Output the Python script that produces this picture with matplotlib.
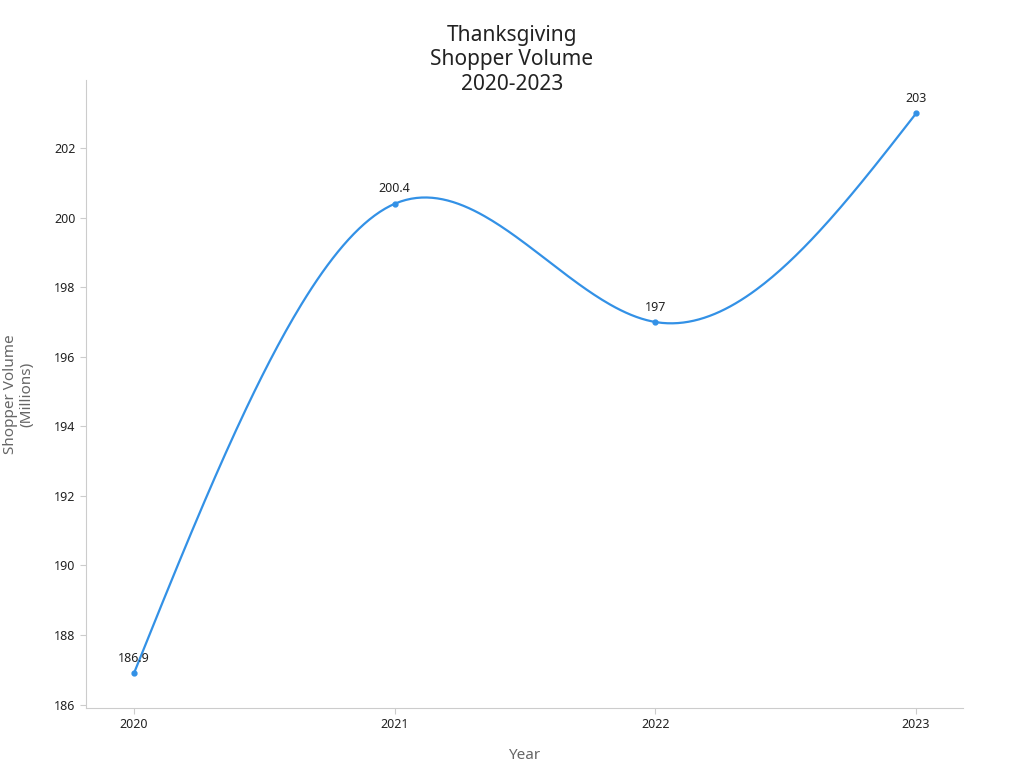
import numpy as np
import matplotlib
matplotlib.use("Agg")
import matplotlib.pyplot as plt

plt.rcParams['font.family'] = ['Noto Sans', 'DejaVu Sans']

years = [2020, 2021, 2022, 2023]
volume = [186.9, 200.4, 197, 203]
labels = ["186.9", "200.4", "197", "203"]

def natural_spline(x, y, n=300):
    x = np.asarray(x, float); y = np.asarray(y, float)
    k = len(x); h = np.diff(x)
    A = np.zeros((k, k)); b = np.zeros(k)
    A[0, 0] = A[-1, -1] = 1
    for i in range(1, k - 1):
        A[i, i-1] = h[i-1]; A[i, i] = 2*(h[i-1]+h[i]); A[i, i+1] = h[i]
        b[i] = 3*((y[i+1]-y[i])/h[i] - (y[i]-y[i-1])/h[i-1])
    c = np.linalg.solve(A, b)
    xs = np.linspace(x[0], x[-1], n); ys = np.empty_like(xs)
    for j, t in enumerate(xs):
        i = min(np.searchsorted(x, t, side='right') - 1, k - 2)
        d = t - x[i]
        bb = (y[i+1]-y[i])/h[i] - h[i]*(2*c[i]+c[i+1])/3
        dd = (c[i+1]-c[i])/(3*h[i])
        ys[j] = y[i] + bb*d + c[i]*d**2 + dd*d**3
    return xs, ys

fig = plt.figure(figsize=(10.24, 7.68), dpi=100)
ax = fig.add_axes([86/1024, 1-708/768, (963-86)/1024, (708-80)/768])
color = '#3391e6'
xs, ys = natural_spline(years, volume)
ax.plot(xs, ys, color=color, lw=1.6)
ax.plot(years, volume, 'o', color=color, ms=3.5)
for x, y, l in zip(years, volume, labels):
    ax.annotate(l, (x, y), xytext=(0, 6), textcoords='offset points',
                ha='center', va='bottom', fontsize=9, color='#222222')

ax.set_xlim(2019.816, 2023.18)
ax.set_ylim(185.9, 203.96)
ax.set_xticks(years)
ax.set_xticklabels([str(y) for y in years])
ax.set_yticks(range(186, 203, 2))
ax.tick_params(labelsize=9, colors='#222222')
ax.tick_params(axis='both', color='#cccccc', length=4)
for s in ['top', 'right']:
    ax.spines[s].set_visible(False)
for s in ['left', 'bottom']:
    ax.spines[s].set_color('#cccccc')
ax.set_xlabel('Year', fontsize=11, color='#666666', labelpad=12)
ax.set_ylabel('Shopper Volume\n(Millions)', fontsize=11, color='#666666', labelpad=14)
fig.text(0.5, 1-60/768, 'Thanksgiving\nShopper Volume\n2020-2023', ha='center', va='center',
         fontsize=15, color='#222222', linespacing=1.2)
fig.savefig('out.png', dpi=100)
